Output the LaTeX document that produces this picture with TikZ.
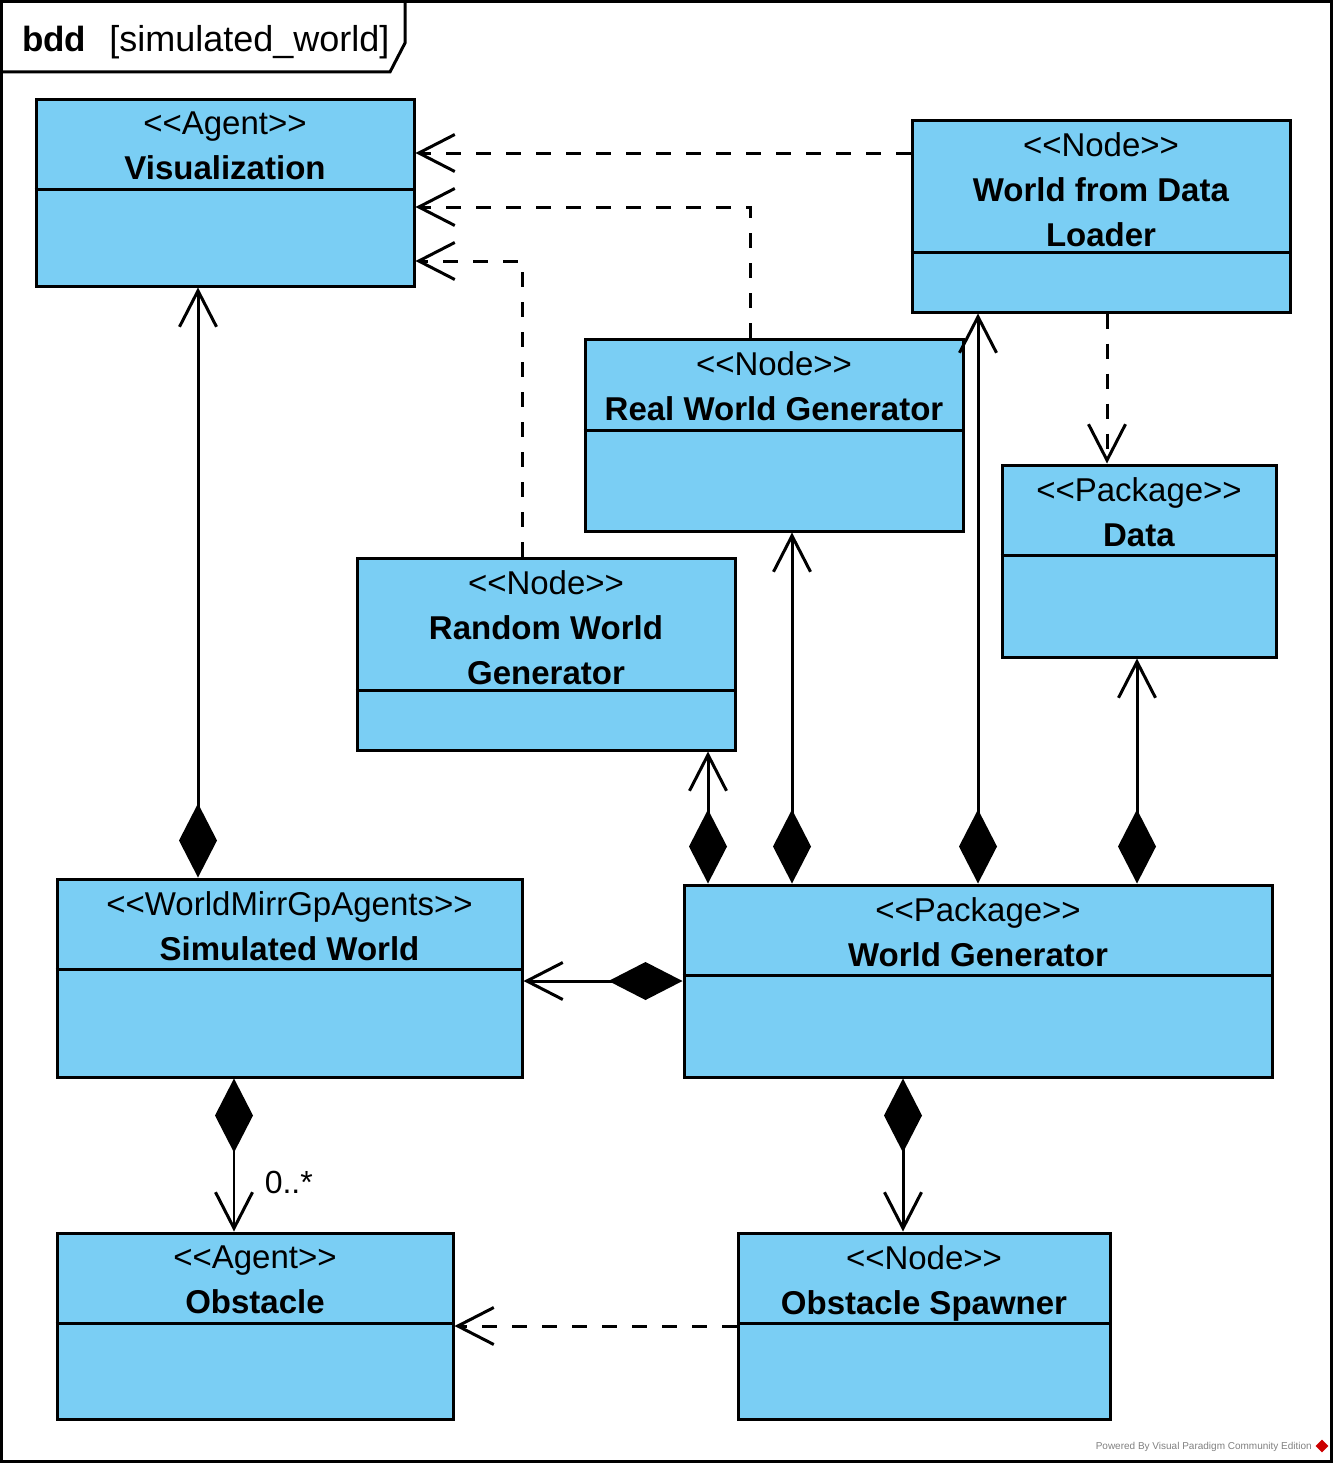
\documentclass[tikz,border=0pt]{standalone}
\usepackage{fontspec}
\setmainfont{Liberation Sans}
\usetikzlibrary{arrows.meta,positioning,shapes.geometric}
\definecolor{classblue}{RGB}{122,206,244}
\newcommand{\stereo}[1]{<\kern0pt<#1>\kern0pt>}

\begin{document}
\begin{tikzpicture}[x=1pt,y=-1pt]
        \tikzstyle{classbox} = [rectangle, draw=black, fill=classblue, line width=3pt]
        \tikzstyle{head} = [anchor=north, align=center, inner sep=0pt, font=\fontsize{33}{45}\selectfont, execute at begin node=\strut]
        \tikzstyle{divider} = [line width=3pt]
        \tikzstyle{dep} = [line width=3pt, dash pattern=on 15pt off 15pt, -{Straight Barb[length=36pt,width=37pt]}]
        \tikzstyle{comp} = [line width=3pt, {Diamond[length=74pt,width=38pt]}-{Straight Barb[length=36pt,width=37pt,line width=3pt]}]

                \useasboundingbox (0,0) rectangle (1335,1464);
                % frame
                \draw[line width=3pt] (1.5,1.5) rectangle (1331.5,1461.5);
                \draw[line width=3pt] (1.5,72) -- (390,72) -- (405,43) -- (405,1.5);
                \node (title) [anchor=base west, inner sep=0pt, font=\fontsize{35}{40}\selectfont] at (22,52) {\textbf{bdd}\hspace{23pt}{\fontsize{36}{40}\selectfont[simulated\_world]}};

                % blocks
                \node (vis) [classbox, minimum width=378pt, minimum height=187pt] at (225,192.5) {};
                \node (vis-h) [head, below=14pt of vis.north] {\stereo{Agent}\\\textbf{Visualization}};
                \draw[divider] ([yshift=-91.5pt]vis.north west) -- ([yshift=-91.5pt]vis.north east);

                \node (wfdl) [classbox, minimum width=378pt, minimum height=192pt] at (1101,216) {};
                \node (wfdl-h) [head, below=14pt of wfdl.north] {\stereo{Node}\\\textbf{World from Data}\\\textbf{Loader}};
                \draw[divider] ([yshift=-133.5pt]wfdl.north west) -- ([yshift=-133.5pt]wfdl.north east);

                \node (realgen) [classbox, minimum width=378pt, minimum height=192pt] at (774,435) {};
                \node (realgen-h) [head, below=14pt of realgen.north] {\stereo{Node}\\\textbf{Real World Generator}};
                \draw[divider] ([yshift=-92.5pt]realgen.north west) -- ([yshift=-92.5pt]realgen.north east);

                \node (data) [classbox, minimum width=274pt, minimum height=192pt] at (1139,561) {};
                \node (data-h) [head, below=14pt of data.north] {\stereo{Package}\\\textbf{Data}};
                \draw[divider] ([yshift=-91.5pt]data.north west) -- ([yshift=-91.5pt]data.north east);

                \node (randgen) [classbox, minimum width=378pt, minimum height=192pt] at (546,654) {};
                \node (randgen-h) [head, below=14pt of randgen.north] {\stereo{Node}\\\textbf{Random World}\\\textbf{Generator}};
                \draw[divider] ([yshift=-133.5pt]randgen.north west) -- ([yshift=-133.5pt]randgen.north east);

                \node (simworld) [classbox, minimum width=465pt, minimum height=198pt] at (289.5,978) {};
                \node (simworld-h) [head, below=14pt of simworld.north] {\stereo{WorldMirrGpAgents}\\\textbf{Simulated World}};
                \draw[divider] ([yshift=-91.5pt]simworld.north west) -- ([yshift=-91.5pt]simworld.north east);

                \node (worldgen) [classbox, minimum width=588pt, minimum height=192pt] at (978,981) {};
                \node (worldgen-h) [head, below=14pt of worldgen.north] {\stereo{Package}\\\textbf{World Generator}};
                \draw[divider] ([yshift=-91.5pt]worldgen.north west) -- ([yshift=-91.5pt]worldgen.north east);

                \node (obstacle) [classbox, minimum width=396pt, minimum height=186pt] at (255,1326) {};
                \node (obstacle-h) [head, below=14pt of obstacle.north] {\stereo{Agent}\\\textbf{Obstacle}};
                \draw[divider] ([yshift=-91.5pt]obstacle.north west) -- ([yshift=-91.5pt]obstacle.north east);

                \node (spawner) [classbox, minimum width=372pt, minimum height=186pt] at (924,1326) {};
                \node (spawner-h) [head, below=14pt of spawner.north] {\stereo{Node}\\\textbf{Obstacle Spawner}};
                \draw[divider] ([yshift=-91.5pt]spawner.north west) -- ([yshift=-91.5pt]spawner.north east);

                % dependencies
                \draw[dep] ([yshift=63pt]wfdl.west) -- ([yshift=63pt]wfdl.west -| vis.east);
                \draw[dep] ([xshift=-24pt]realgen.north) |- ([yshift=-14.5pt]vis.east);
                \draw[dep] ([xshift=-24pt]randgen.north) |- ([yshift=-68.5pt]vis.east);
                \draw[dep] ([xshift=6pt]wfdl.south) -- ([xshift=6pt]wfdl.south |- data.north);
                \draw[dep] (spawner.west) -- (obstacle.east);

                % compositions
                \draw[comp] ([xshift=-91.5pt]simworld.north) -- ([xshift=-91.5pt]simworld.north |- vis.south);
                \draw[comp] ([xshift=-270pt]worldgen.north) -- ([xshift=-270pt]worldgen.north |- randgen.south);
                \draw[comp] ([xshift=-186pt]worldgen.north) -- ([xshift=-186pt]worldgen.north |- realgen.south);
                \draw[comp] (worldgen.north) -- (worldgen.north |- wfdl.south);
                \draw[comp] ([xshift=159pt]worldgen.north) -- ([xshift=159pt]worldgen.north |- data.south);
                \draw[comp] (worldgen.west) -- (worldgen.west -| simworld.east);
                \draw[comp, line width=1.5pt] ([xshift=-55.5pt]simworld.south) -- node (mult) [pos=0.68, anchor=west, inner sep=0pt, xshift=30pt, font=\fontsize{32}{38}\selectfont] {0..*} ([xshift=-55.5pt]simworld.south |- obstacle.north);
                \draw[comp] ([xshift=-75pt]worldgen.south) -- ([xshift=-75pt]worldgen.south |- spawner.north);

                % watermark
                \node (powered) [anchor=east, inner sep=0pt, text=gray, font=\fontsize{10}{12}\selectfont] at (1312,1447) {Powered By Visual Paradigm Community Edition};
                \node (vplogo) [diamond, fill=red!80!black, inner sep=0pt, minimum size=13pt] at (1322,1446) {};
    \end{tikzpicture}
\end{document}
